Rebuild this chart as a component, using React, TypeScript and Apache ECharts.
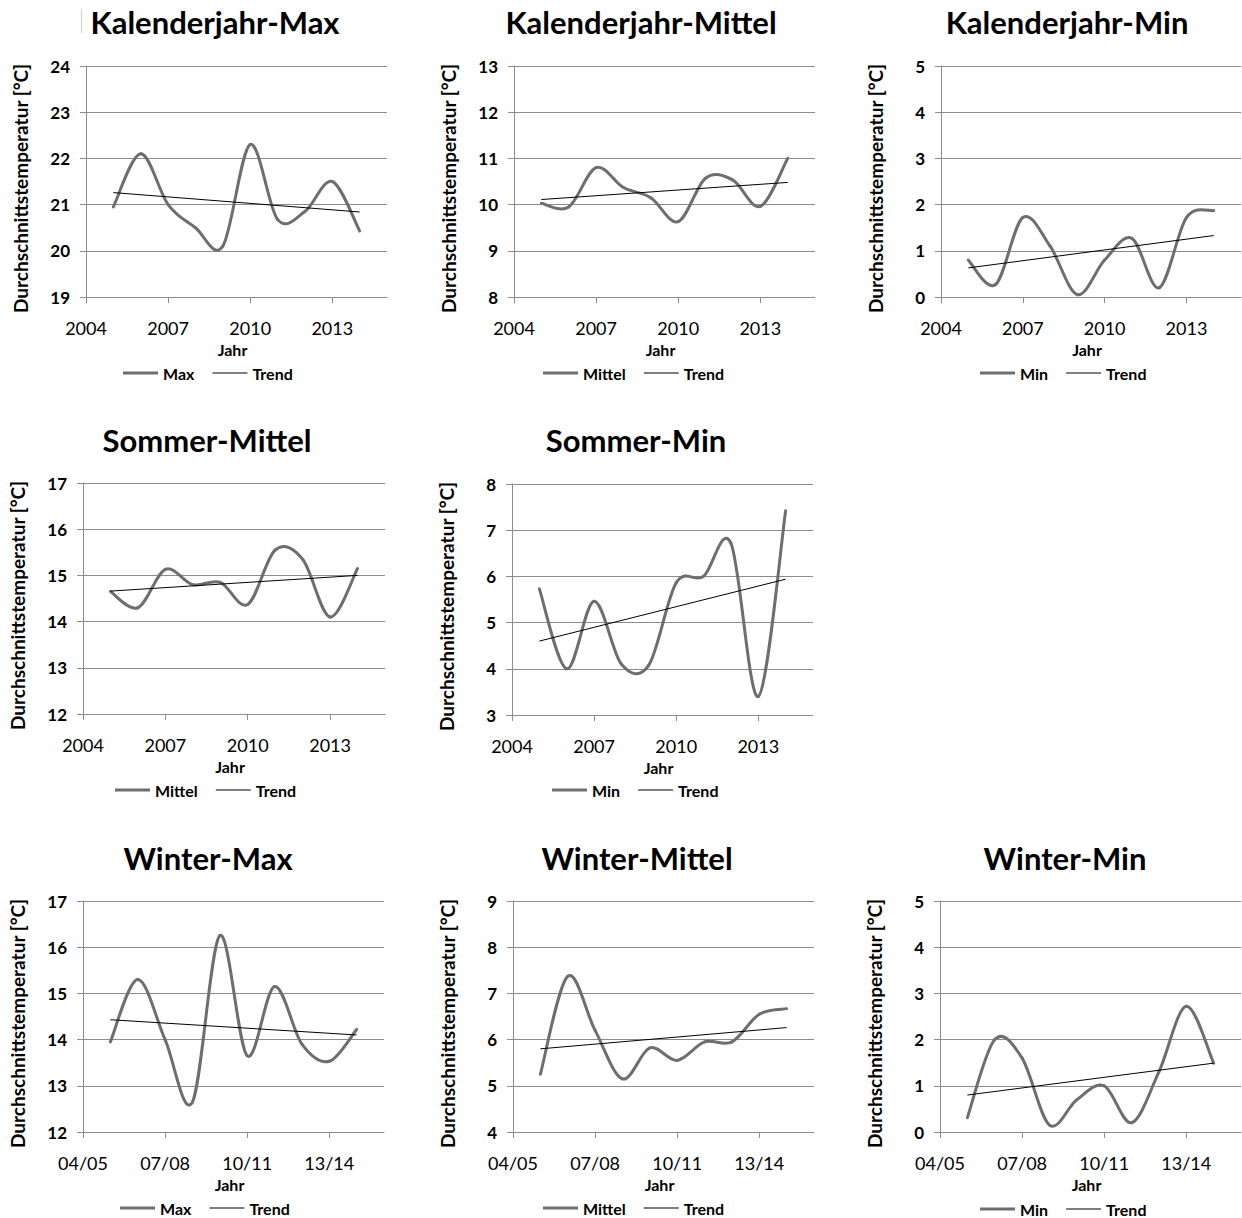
import React, { useEffect, useRef } from 'react';
import * as echarts from 'echarts';

// Jahre der Messwerte (Winter: 05/06 … 14/15 auf derselben Achse)
const years = [2005, 2006, 2007, 2008, 2009, 2010, 2011, 2012, 2013, 2014];
const yearTicks = [2004, 2007, 2010, 2013];
const winterTickLabels = ['04/05', '07/08', '10/11', '13/14'];

// Durchschnittstemperaturen [°C]
const kalenderjahrMax = [20.95, 22.1, 21.0, 20.5, 20.1, 22.3, 20.68, 20.85, 21.5, 20.43];
const kalenderjahrMittel = [10.03, 9.95, 10.8, 10.37, 10.15, 9.63, 10.57, 10.53, 9.96, 11.0];
const kalenderjahrMin = [0.8, 0.27, 1.72, 1.1, 0.05, 0.8, 1.27, 0.2, 1.72, 1.87];
const sommerMittel = [14.65, 14.3, 15.13, 14.8, 14.85, 14.37, 15.55, 15.35, 14.1, 15.15];
const sommerMin = [5.73, 4.0, 5.46, 4.1, 4.08, 5.86, 6.0, 6.72, 3.4, 7.42];
const winterMax = [13.95, 15.3, 14.0, 12.65, 16.25, 13.65, 15.15, 13.9, 13.53, 14.22];
const winterMittel = [5.25, 7.37, 6.2, 5.15, 5.82, 5.55, 5.95, 5.95, 6.55, 6.67];
const winterMin = [0.31, 2.0, 1.6, 0.15, 0.7, 1.0, 0.2, 1.3, 2.72, 1.49];

// Lineare Trends: Wert im ersten und im letzten Jahr
const kalenderjahrMaxTrend = [21.26, 20.84];
const kalenderjahrMittelTrend = [10.11, 10.48];
const kalenderjahrMinTrend = [0.63, 1.33];
const sommerMittelTrend = [14.66, 15.0];
const sommerMinTrend = [4.6, 5.94];
const winterMaxTrend = [14.43, 14.1];
const winterMittelTrend = [5.8, 6.26];
const winterMinTrend = [0.8, 1.49];

const FONT = 'Lato';
const LINE_GREY = '#6e6e6e';
const GRID_GREY = '#8c8c8c';
const ICON_THICK = 'path://M0,0 L35,0 L35,3 L0,3 Z';
const ICON_THIN = 'path://M0,0 L35,0 L35,1 L0,1 Z';

type Panel = {
  title: string;
  name: string;
  values: number[];
  trend: number[];
  yMin: number;
  yMax: number;
  winter: boolean;
  left: number;
  top: number;
  width: number;
  titleX: number;
  titleY: number;
  legendX: number;
  legendY: number;
};

const panels: Panel[] = [
  { title: 'Kalenderjahr-Max', name: 'Max', values: kalenderjahrMax, trend: kalenderjahrMaxTrend, yMin: 19, yMax: 24, winter: false, left: 86, top: 66, width: 301, titleX: 215, titleY: 22, legendX: 123, legendY: 373 },
  { title: 'Kalenderjahr-Mittel', name: 'Mittel', values: kalenderjahrMittel, trend: kalenderjahrMittelTrend, yMin: 8, yMax: 13, winter: false, left: 514, top: 66, width: 301, titleX: 641, titleY: 22, legendX: 543, legendY: 373 },
  { title: 'Kalenderjahr-Min', name: 'Min', values: kalenderjahrMin, trend: kalenderjahrMinTrend, yMin: 0, yMax: 5, winter: false, left: 941, top: 66, width: 300, titleX: 1067, titleY: 22, legendX: 980, legendY: 373 },
  { title: 'Sommer-Mittel', name: 'Mittel', values: sommerMittel, trend: sommerMittelTrend, yMin: 12, yMax: 17, winter: false, left: 83, top: 483, width: 302, titleX: 207, titleY: 440, legendX: 115, legendY: 790 },
  { title: 'Sommer-Min', name: 'Min', values: sommerMin, trend: sommerMinTrend, yMin: 3, yMax: 8, winter: false, left: 512, top: 484, width: 301, titleX: 636, titleY: 440, legendX: 552, legendY: 790 },
  { title: 'Winter-Max', name: 'Max', values: winterMax, trend: winterMaxTrend, yMin: 12, yMax: 17, winter: true, left: 83, top: 901, width: 301, titleX: 208, titleY: 858, legendX: 120, legendY: 1208 },
  { title: 'Winter-Mittel', name: 'Mittel', values: winterMittel, trend: winterMittelTrend, yMin: 4, yMax: 9, winter: true, left: 513, top: 901, width: 301, titleX: 637, titleY: 858, legendX: 543, legendY: 1208 },
  { title: 'Winter-Min', name: 'Min', values: winterMin, trend: winterMinTrend, yMin: 0, yMax: 5, winter: true, left: 940, top: 901, width: 301, titleX: 1065, titleY: 858, legendX: 980, legendY: 1209 },
];

// Geglättete Linie: jedes Datenelement zeichnet das Kurvenstück zum nächsten Jahr
// als kubische Bézierkurve (Catmull-Rom-Tangenten in Pixelkoordinaten).
function smoothRenderer(values: number[]) {
  return (params: any, api: any) => {
    const i = params.dataIndex;
    const n = values.length;
    if (i >= n - 1) return null;
    const pt = (k: number) => {
      const j = Math.max(0, Math.min(n - 1, k));
      return api.coord([years[j], values[j]]);
    };
    const p0 = pt(i - 1);
    const p1 = pt(i);
    const p2 = pt(i + 1);
    const p3 = pt(i + 2);
    return {
      type: 'bezierCurve',
      shape: {
        x1: p1[0],
        y1: p1[1],
        cpx1: p1[0] + (p2[0] - p0[0]) / 6,
        cpy1: p1[1] + (p2[1] - p0[1]) / 6,
        cpx2: p2[0] - (p3[0] - p1[0]) / 6,
        cpy2: p2[1] - (p3[1] - p1[1]) / 6,
        x2: p2[0],
        y2: p2[1],
      },
      style: { stroke: LINE_GREY, lineWidth: 3, fill: null, lineCap: 'round' },
    };
  };
}

function buildOption(): echarts.EChartsOption {
  const grid: any[] = [];
  const xAxis: any[] = [];
  const yAxis: any[] = [];
  const series: any[] = [];
  const title: any[] = [];
  const legend: any[] = [];

  panels.forEach((p, i) => {
    grid.push({ left: p.left, top: p.top, width: p.width, height: 231, containLabel: false });

    xAxis.push({
      type: 'value',
      gridIndex: i,
      min: 2004,
      max: 2015,
      name: 'Jahr',
      nameLocation: 'middle',
      nameGap: 44,
      nameTextStyle: { fontFamily: FONT, fontWeight: 'bold', fontSize: 16, color: '#000', padding: [0, 8, 0, 0] },
      axisLine: { show: true, onZero: false, lineStyle: { color: GRID_GREY, width: 1 } },
      axisTick: { show: true, length: 6, customValues: yearTicks, lineStyle: { color: GRID_GREY } },
      axisLabel: {
        customValues: yearTicks,
        margin: 22,
        fontFamily: FONT,
        fontSize: 18,
        color: '#000',
        formatter: (v: number) => {
          const k = yearTicks.indexOf(v);
          if (k < 0) return '';
          return p.winter ? winterTickLabels[k] : String(v);
        },
      },
      splitLine: { show: false },
    });

    yAxis.push({
      type: 'value',
      gridIndex: i,
      min: p.yMin,
      max: p.yMax,
      interval: 1,
      name: 'Durchschnittstemperatur [°C]',
      nameLocation: 'middle',
      nameRotate: 90,
      nameGap: 56,
      nameTextStyle: { fontFamily: FONT, fontWeight: 'bold', fontSize: 19, color: '#000', padding: [0, 14, 0, 0] },
      axisLine: { show: true, lineStyle: { color: GRID_GREY, width: 1 } },
      axisTick: { show: true, length: 6, lineStyle: { color: GRID_GREY } },
      axisLabel: { margin: 16, fontFamily: FONT, fontWeight: 'bold', fontSize: 17, color: '#000' },
      splitLine: { show: true, lineStyle: { color: GRID_GREY, width: 1 } },
    });

    series.push({
      type: 'custom',
      name: p.name,
      xAxisIndex: i,
      yAxisIndex: i,
      data: years.map((yr, k) => [yr, p.values[k]]),
      encode: { x: 0, y: 1 },
      renderItem: smoothRenderer(p.values),
      itemStyle: { color: LINE_GREY },
      z: 3,
    });
    series.push({
      type: 'line',
      name: 'Trend',
      xAxisIndex: i,
      yAxisIndex: i,
      data: [
        [years[0], p.trend[0]],
        [years[years.length - 1], p.trend[1]],
      ],
      symbol: 'none',
      lineStyle: { color: '#000', width: 1 },
      itemStyle: { color: '#000' },
      z: 4,
    });

    title.push({
      text: p.title,
      left: p.titleX,
      top: p.titleY - 17,
      textAlign: 'center',
      padding: 0,
      textStyle: { fontFamily: FONT, fontWeight: 'bold', fontSize: 31, lineHeight: 34, color: '#000' },
    });

    legend.push({
      left: p.legendX,
      top: p.legendY - 8,
      padding: 0,
      itemWidth: 35,
      itemHeight: 16,
      itemGap: 18,
      selectedMode: false,
      itemStyle: { borderWidth: 0 },
      data: [
        { name: p.name, icon: ICON_THICK },
        { name: 'Trend', icon: ICON_THIN },
      ],
      textStyle: { fontFamily: FONT, fontWeight: 'bold', fontSize: 16, color: '#000' },
    });
  });

  return {
    animation: false,
    backgroundColor: '#fff',
    title,
    legend,
    grid,
    xAxis,
    yAxis,
    series,
    graphic: [
      {
        type: 'line',
        shape: { x1: 81.5, y1: 9, x2: 81.5, y2: 33 },
        style: { stroke: '#cfcfcf', lineWidth: 1 },
      },
    ],
  };
}

export default function App() {
  const ref = useRef<HTMLDivElement>(null);

  useEffect(() => {
    if (!ref.current) return;
    const chart = echarts.init(ref.current, undefined, { renderer: 'svg' });
    chart.setOption(buildOption());
    return () => chart.dispose();
  }, []);

  return (
    <div
      ref={ref}
      style={{ position: 'absolute', left: 0, top: 0, width: 1242, height: 1218, background: '#fff' }}
    />
  );
}
